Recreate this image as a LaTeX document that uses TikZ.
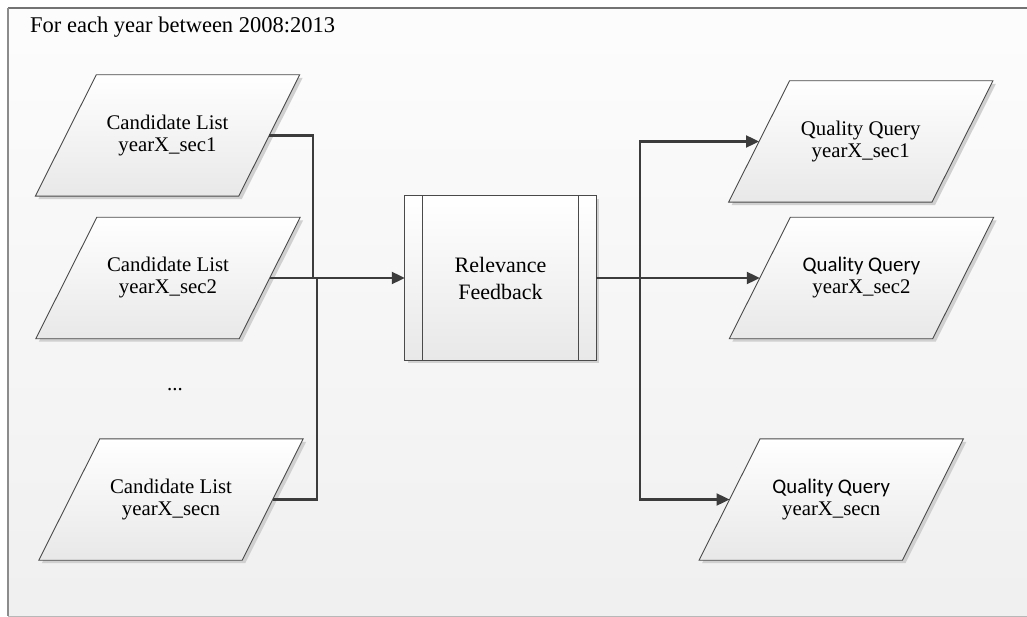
\documentclass[tikz,border=0pt]{standalone}
\usepackage{fontspec}
\setmainfont{Liberation Serif}
\newfontfamily\calibri{Carlito}
\usetikzlibrary{arrows.meta,calc}
\pgfdeclarelayer{bg}
\pgfsetlayers{bg,main}
\definecolor{edge}{HTML}{4A4A4A}
\definecolor{wire}{HTML}{3C3C3C}
\definecolor{shadowc}{HTML}{D0D0D0}
\tikzset{
  x=1pt, y=-1pt,
  txt/.style={font=\fontsize{20.8}{22}\selectfont, align=center, inner sep=0pt, text=black},
  databox/.style={txt, minimum width=203pt, minimum height=121pt},
  flow/.style={draw=wire, line width=2.1pt},
  arr/.style={flow, -{Triangle[length=13pt,width=12pt]}},
  shapefill/.style={top color=white, bottom color=black!9},
  shapeline/.style={draw=edge, line width=0.9pt},
}
% parallelogram (data shape) around a text node
\newcommand\drawdata[1]{%
  \fill[shadowc] ($(#1.north west)+(33.5,3)$) -- ($(#1.north east)+(33.5,3)$)
     -- ($(#1.south east)+(-27.5,3)$) -- ($(#1.south west)+(-27.5,3)$) -- cycle;
  \shade[shapefill] ($(#1.north west)+(30.5,0)$) -- ($(#1.north east)+(30.5,0)$)
     -- ($(#1.south east)+(-30.5,0)$) -- ($(#1.south west)+(-30.5,0)$) -- cycle;
  \draw[shapeline] ($(#1.north west)+(30.5,0)$) -- ($(#1.north east)+(30.5,0)$)
     -- ($(#1.south east)+(-30.5,0)$) -- ($(#1.south west)+(-30.5,0)$) -- cycle;
}
\begin{document}
\begin{tikzpicture}
\useasboundingbox (0,0) rectangle (1027,617);
\clip (0,0) rectangle (1027,617);

% title of the loop frame
\node[txt, font=\fontsize{22.5}{24}\selectfont, anchor=base west] (title) at (30,33) {For each year between 2008:2013};

% inputs
\node[databox] (c1) at (167.5,135.5) {Candidate List\\yearX\_sec1};
\node[databox] (c2) at (168,278) {Candidate List\\yearX\_sec2};
\node[txt] (dots) at (175,390) {...};
\node[databox] (c3) at (171,499.5) {Candidate List\\yearX\_secn};

% process
\node[txt, font=\fontsize{22}{27}\selectfont, minimum width=191pt, minimum height=164pt] (rf) at (500.5,278) {Relevance\\Feedback};

% outputs
\node[databox] (q1) at (860.75,141.5) {Quality Query\\yearX\_sec1};
\node[databox] (q2) at (861.5,278) {{\calibri Quality Query}\\yearX\_sec2};
\node[databox] (q3) at (831.25,499.5) {{\calibri Quality Query}\\yearX\_secn};

% connectors
\coordinate (jl1) at (313,278);
\coordinate (jl3) at (317,278);
\coordinate (jr) at (640,278);
\draw[flow] (c1.east) -| (jl1);
\draw[flow] (c3.east) -| (jl3);
\draw[arr] (c2.east) -- (rf.west);
\draw[arr] (rf.east) -- (q2.west);
\draw[arr] (jr) |- (q1.west);
\draw[arr] (jr) |- (q3.west);

\begin{pgfonlayer}{bg}
  % loop frame
  \fill[white] (0,0) rectangle (1027,617);
  \shade[top color=white!99!black, bottom color=black!6] (8,8) rectangle (1040,616);
  \draw[black!55, line width=1.6pt] (8,8) -- (1040,8);
  \draw[black!45, line width=1.5pt] (8,8) -- (8,616);
  \draw[black!28, line width=1pt] (8,616) -- (1040,616);
  % data shapes
  \drawdata{c1}
  \drawdata{c2}
  \drawdata{c3}
  \drawdata{q1}
  \drawdata{q2}
  \drawdata{q3}
  % predefined process box
  \fill[shadowc] ($(rf.north west)+(3,3)$) rectangle ($(rf.south east)+(3,3)$);
  \shade[shapefill] (rf.north west) rectangle (rf.south east);
  \draw[shapeline] (rf.north west) rectangle (rf.south east);
  \draw[shapeline] ($(rf.north west)+(18,0)$) -- ($(rf.south west)+(18,0)$);
  \draw[shapeline] ($(rf.north east)+(-18,0)$) -- ($(rf.south east)+(-18,0)$);
\end{pgfonlayer}
\end{tikzpicture}
\end{document}
